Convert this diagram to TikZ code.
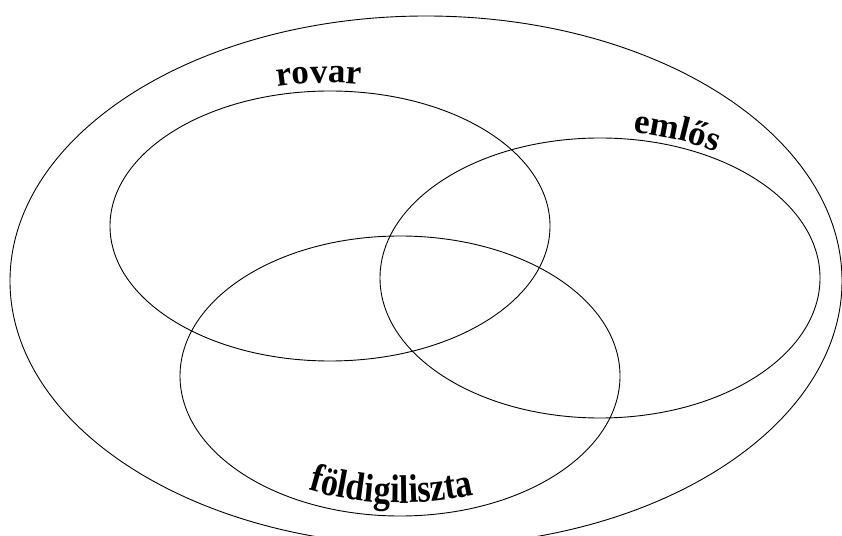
\documentclass[tikz,border=0pt]{standalone}
\usepackage{fontspec}
\setmainfont{Liberation Serif}
\newfontfamily\condfont[FakeStretch=0.85]{Liberation Serif}
\usetikzlibrary{decorations.text}
\newcommand\lblfont{\fontsize{35}{35}\selectfont\bfseries}
\newcommand\lblcondfont{\condfont\fontsize{40}{40}\selectfont\bfseries}
\begin{document}
\begin{tikzpicture}[x=1pt,y=1pt,
  setline/.style={draw=black,line width=0.9pt},
  curvedlabel/.style={decorate,decoration={text along path,text align=center,text={|\lblfont|#1}}},
  curvedcond/.style={decorate,decoration={text along path,text align=center,text={|\lblcondfont|#1}}}]
\useasboundingbox (0,0) rectangle (842,535);
% outer universe
\draw[setline] (426,254) ellipse [x radius=416,y radius=265];
% sets
\draw[setline] (330,309) ellipse [x radius=220,y radius=135];
\draw[setline] (600,257) ellipse [x radius=220,y radius=140];
\draw[setline] (400,159) ellipse [x radius=220,y radius=140];
% labels
\path[curvedlabel=rovar] (330,309) ++(123:228 and 143) arc[start angle=123,end angle=63,x radius=228,y radius=143];
\path[curvedlabel=emlős] (600,257) ++(99:227 and 147) arc[start angle=99,end angle=39,x radius=227,y radius=147];
\path[curvedcond=földigiliszta] (400,159) ++(222:207 and 127) arc[start angle=222,end angle=312,x radius=207,y radius=127];
\end{tikzpicture}
\end{document}
